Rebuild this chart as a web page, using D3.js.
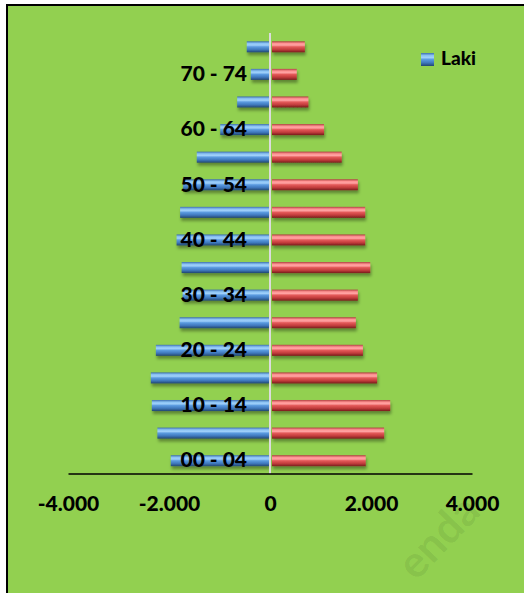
<!DOCTYPE html>
<html>
<head>
<meta charset="utf-8">
<script src="https://cdn.jsdelivr.net/npm/d3@7/dist/d3.min.js"></script>
<style>
  body { margin: 0; background: #fff; }
  text { font-family: Lato, "Liberation Sans", sans-serif; font-weight: bold; }
</style>
</head>
<body>
<svg></svg>
<script>
var width = 524;
var height = 593;

// age groups, bottom to top
var ages = ["00 - 04", "05 - 09", "10 - 14", "15 - 19", "20 - 24", "25 - 29", "30 - 34", "35 - 39",
            "40 - 44", "45 - 49", "50 - 54", "55 - 59", "60 - 64", "65 - 69", "70 - 74", "75+"];
// laki (men) - drawn to the left
var laki = [1965, 2230, 2340, 2360, 2260, 1790, 1730, 1750, 1850, 1780, 1720, 1450, 985, 650, 380, 460];
// perempuan (women) - drawn to the right
var perempuan = [1895, 2260, 2380, 2120, 1840, 1700, 1740, 1985, 1885, 1885, 1740, 1420, 1070, 760, 530, 690];
var xTicks = [-4000, -2000, 0, 2000, 4000];

var svg = d3.select("svg")
            .attr("width", width)
            .attr("height", height);

var defs = svg.append("defs");

// 3d look of the bars
function makeGrad(id, stops) {
    var g = defs.append("linearGradient")
        .attr("id", id)
        .attr("x1", 0).attr("y1", 0).attr("x2", 0).attr("y2", 1);
    stops.forEach(function(s) {
        g.append("stop").attr("offset", s[0]).attr("stop-color", s[1]);
    });
}
makeGrad("blueGrad", [[0, "#3d6fae"], [0.2, "#8cc4f5"], [0.35, "#9fd0fa"], [0.5, "#5b9be0"], [0.75, "#3f78bd"], [1, "#22466f"]]);
makeGrad("redGrad", [[0, "#b04040"], [0.2, "#ff9494"], [0.35, "#ffa3a3"], [0.5, "#e45a5a"], [0.75, "#c23c3c"], [1, "#771d1d"]]);

var shadow = defs.append("filter").attr("id", "shadow")
    .attr("x", "-10%").attr("y", "-50%").attr("width", "130%").attr("height", "250%");
shadow.append("feDropShadow")
    .attr("dx", 1).attr("dy", 3).attr("stdDeviation", 1.5)
    .attr("flood-color", "#000").attr("flood-opacity", 0.35);

// background + frame
svg.append("rect")
    .attr("x", 7).attr("y", 5)
    .attr("width", 540).attr("height", 620)
    .attr("fill", "#92d050")
    .attr("stroke", "#000")
    .attr("stroke-width", 2);

// watermark
svg.append("text")
    .attr("transform", "translate(416,582) rotate(-46)")
    .attr("font-size", 44)
    .attr("fill", "#000")
    .attr("fill-opacity", 0.07)
    .text("enda");

var xScale = d3.scaleLinear()
               .domain([-4000, 4000])
               .range([68, 472]);

var yScale = d3.scaleBand()
               .domain(ages)
               .range([474.5, 33])
               .paddingInner(0.6)
               .paddingOuter(0.3);

var rows = ages.map(function(a, i) {
    return { age: a, laki: laki[i], perempuan: perempuan[i] };
});

// men bars
svg.append("g").selectAll("rect")
    .data(rows)
    .enter().append("rect")
    .attr("x", d => xScale(-d.laki))
    .attr("y", d => yScale(d.age))
    .attr("width", d => xScale(0) - 1 - xScale(-d.laki))
    .attr("height", yScale.bandwidth())
    .attr("fill", "url(#blueGrad)")
    .attr("filter", "url(#shadow)");

// women bars
svg.append("g").selectAll("rect")
    .data(rows)
    .enter().append("rect")
    .attr("x", xScale(0) + 2)
    .attr("y", d => yScale(d.age))
    .attr("width", d => xScale(d.perempuan) - xScale(0) - 2)
    .attr("height", yScale.bandwidth())
    .attr("fill", "url(#redGrad)")
    .attr("filter", "url(#shadow)");

// zero line
svg.append("line")
    .attr("x1", xScale(0)).attr("x2", xScale(0))
    .attr("y1", 33).attr("y2", 474)
    .attr("stroke", "#dcdcdc")
    .attr("stroke-width", 2);

// x axis, "." as thousands separator and plain hyphen for minus
var locale = d3.formatLocale({ decimal: ",", thousands: ".", grouping: [3], currency: ["", ""], minus: "-" });
var xAxis = svg.append("g")
    .attr("transform", "translate(0,473.5)")
    .call(d3.axisBottom(xScale)
        .tickValues(xTicks)
        .tickSize(0)
        .tickPadding(23)
        .tickFormat(locale.format(",")));
xAxis.select(".domain")
    .attr("stroke", "#000")
    .attr("stroke-width", 1.5);
xAxis.selectAll("text")
    .attr("font-size", 21)
    .attr("fill", "#000")
    .style("font-family", "Lato, sans-serif")
    .style("font-weight", 900);

// category labels, every other one
var yAxis = svg.append("g")
    .attr("transform", "translate(247,0)")
    .call(d3.axisLeft(yScale)
        .tickSize(0)
        .tickPadding(0)
        .tickFormat((d, i) => i % 2 === 0 ? d : ""));
yAxis.select(".domain").remove();
yAxis.selectAll("text")
    .attr("font-size", 21)
    .attr("fill", "#000")
    .style("font-family", "Lato, sans-serif")
    .style("font-weight", 900);

// legend (only Laki is visible)
svg.append("rect")
    .attr("x", 421).attr("y", 53)
    .attr("width", 13).attr("height", 13)
    .attr("fill", "url(#blueGrad)");
svg.append("text")
    .attr("x", 441).attr("y", 65)
    .attr("font-size", 19)
    .attr("fill", "#000")
    .style("font-weight", 900)
    .text("Laki");
</script>
</body>
</html>
